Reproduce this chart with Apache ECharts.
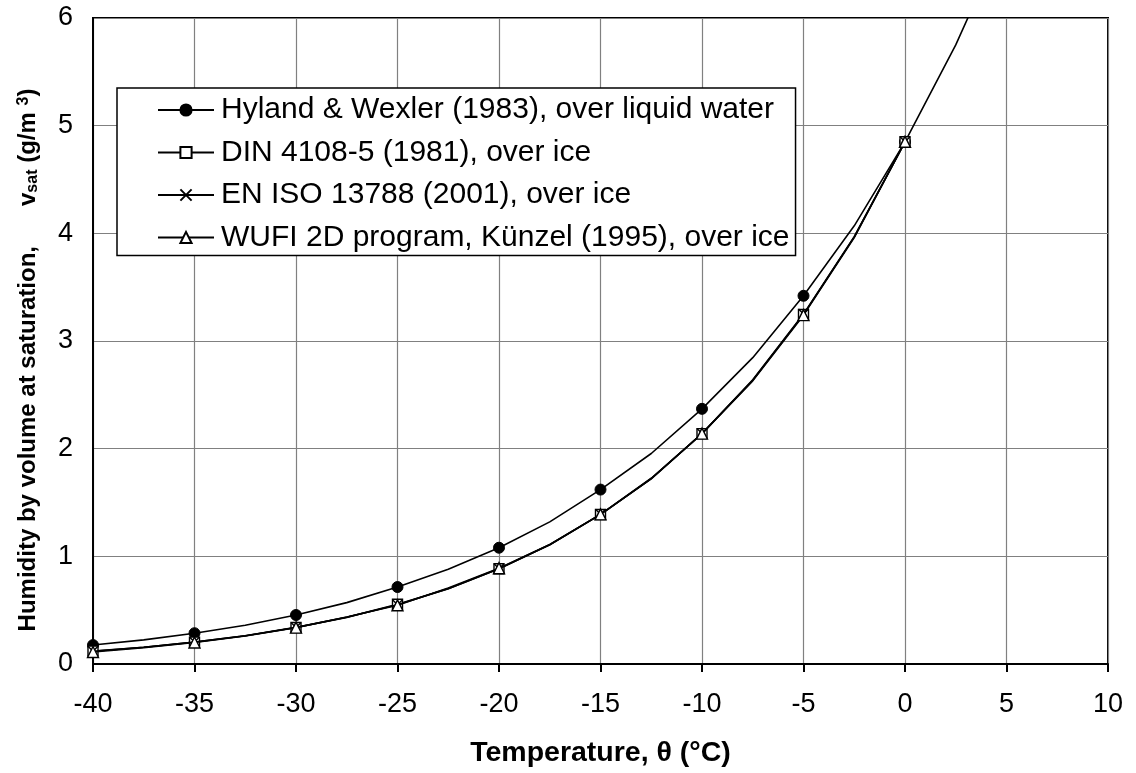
<!DOCTYPE html>
<html>
<head>
<meta charset="utf-8">
<script src="https://cdn.jsdelivr.net/npm/echarts@6/dist/echarts.min.js"></script>
<style>
html,body{margin:0;padding:0;background:#fff;}
#chart{width:1136px;height:773px;}
</style>
</head>
<body>
<div id="chart"></div>
<script>
// Temperatures (°C) at which each curve is sampled
const tempsWater = [-40,-37.5,-35,-32.5,-30,-27.5,-25,-22.5,-20,-17.5,-15,-12.5,-10,-7.5,-5,-2.5,0,2.5,5];
const tempsIce   = [-40,-37.5,-35,-32.5,-30,-27.5,-25,-22.5,-20,-17.5,-15,-12.5,-10,-7.5,-5,-2.5,0];

// Humidity by volume at saturation (g/m3)
const hylandWexler = [0.176,0.224,0.286,0.360,0.455,0.570,0.715,0.880,1.080,1.320,1.620,1.955,2.370,2.845,3.420,4.070,4.850,5.750,6.800];
const din4108      = [0.120,0.156,0.203,0.262,0.339,0.433,0.555,0.699,0.884,1.107,1.388,1.723,2.140,2.636,3.246,3.967,4.850];
const enIso13788   = [0.118,0.155,0.204,0.263,0.340,0.434,0.550,0.700,0.885,1.108,1.390,1.725,2.140,2.640,3.250,3.970,4.850];
const wufi2d       = [0.112,0.152,0.200,0.260,0.338,0.436,0.545,0.705,0.890,1.110,1.390,1.720,2.140,2.630,3.240,3.960,4.850];

const seriesNames = [
  'Hyland & Wexler (1983), over liquid water',
  'DIN 4108-5 (1981), over ice',
  'EN ISO 13788 (2001), over ice',
  'WUFI 2D program, Künzel (1995), over ice'
];

const xTicks = { min: -40, max: 10, interval: 5 };
const yTicks = { min: 0, max: 6, interval: 1 };

function build(xs, ys) {
  return xs.map((x, i) => {
    const item = { value: [x, ys[i]] };
    if (x % 5 !== 0) item.symbol = 'none';
    return item;
  });
}

const crossPath = 'path://M0,0L10,10M0,10L10,0';

const chart = echarts.init(document.getElementById('chart'));
const font = '"Liberation Sans", Arial, sans-serif';

chart.setOption({
  animation: false,
  backgroundColor: '#ffffff',
  textStyle: { fontFamily: font, color: '#000' },
  grid: { left: 93, right: 28, top: 18, bottom: 107, show: true, borderColor: '#000', borderWidth: 2 },
  legend: {
    orient: 'vertical',
    left: 117, top: 88,
    backgroundColor: '#fff',
    borderColor: '#000', borderWidth: 1.5, borderRadius: 0,
    padding: [7, 6, 3, 40],
    itemWidth: 56, itemHeight: 14, itemGap: 12.5,
    textStyle: { fontSize: 30, color: '#000', fontFamily: font, padding: [0,0,0,2] },
    data: seriesNames
  },
  xAxis: {
    type: 'value', min: xTicks.min, max: xTicks.max, interval: xTicks.interval,
    name: 'Temperature, θ (°C)', nameLocation: 'middle', nameGap: 75,
    nameTextStyle: { fontSize: 28.5, fontWeight: 'bold', color: '#000', fontFamily: font },
    axisLine: { show: true, onZero: false, lineStyle: { color: '#000', width: 2 } },
    axisTick: { show: true, length: 8, lineStyle: { color: '#000', width: 2 } },
    axisLabel: { fontSize: 27, color: '#000', margin: 27, fontFamily: font },
    splitLine: { show: true, lineStyle: { color: '#808080', width: 1.2 } }
  },
  yAxis: {
    type: 'value', min: yTicks.min, max: yTicks.max, interval: yTicks.interval,
    name: 'Humidity by volume at saturation,      {v|v}{s|sat}{n| (g/m }{p|3}{n|)}',
    nameLocation: 'middle', nameGap: 50, nameRotate: 90,
    nameTextStyle: {
      fontSize: 24, fontWeight: 'bold', color: '#000', fontFamily: font, padding: [0, 0, 0, -38],
      rich: {
        v: { fontSize: 24, fontWeight: 'bold', fontFamily: font, lineHeight: 30, verticalAlign: 'middle' },
        n: { fontSize: 24, fontWeight: 'bold', fontFamily: font, lineHeight: 30, verticalAlign: 'middle' },
        s: { fontSize: 16, fontWeight: 'bold', fontFamily: font, lineHeight: 30, verticalAlign: 'bottom', padding: [0,0,2,0] },
        p: { fontSize: 16, fontWeight: 'bold', fontFamily: font, lineHeight: 30, verticalAlign: 'top', padding: [3,0,0,0] }
      }
    },
    axisLine: { show: true, onZero: false, lineStyle: { color: '#000', width: 2 } },
    axisTick: { show: false },
    axisLabel: { fontSize: 27, color: '#000', margin: 20, fontFamily: font },
    splitLine: { show: true, lineStyle: { color: '#808080', width: 1.2 } }
  },
  series: [
    {
      name: seriesNames[0], type: 'line', data: build(tempsWater, hylandWexler),
      symbol: 'circle', symbolSize: 11, showAllSymbol: true,
      lineStyle: { color: '#000', width: 1.6 },
      itemStyle: { color: '#000', borderColor: '#000', borderWidth: 1 }, z: 3
    },
    {
      name: seriesNames[1], type: 'line', data: build(tempsIce, din4108),
      symbol: 'rect', symbolSize: 10, showAllSymbol: true,
      lineStyle: { color: '#000', width: 1.6 },
      itemStyle: { color: '#fff', borderColor: '#000', borderWidth: 1.4 }, z: 4
    },
    {
      name: seriesNames[2], type: 'line', data: build(tempsIce, enIso13788),
      symbol: crossPath, symbolSize: 10, showAllSymbol: true,
      lineStyle: { color: '#000', width: 1.6 },
      itemStyle: { color: 'rgba(0,0,0,0)', borderColor: '#000', borderWidth: 1.4 }, z: 5
    },
    {
      name: seriesNames[3], type: 'line', data: build(tempsIce, wufi2d),
      symbol: 'triangle', symbolSize: 11, showAllSymbol: true,
      lineStyle: { color: '#000', width: 1.6 },
      itemStyle: { color: '#fff', borderColor: '#000', borderWidth: 1.4 }, z: 6
    }
  ]
});
</script>
</body>
</html>
